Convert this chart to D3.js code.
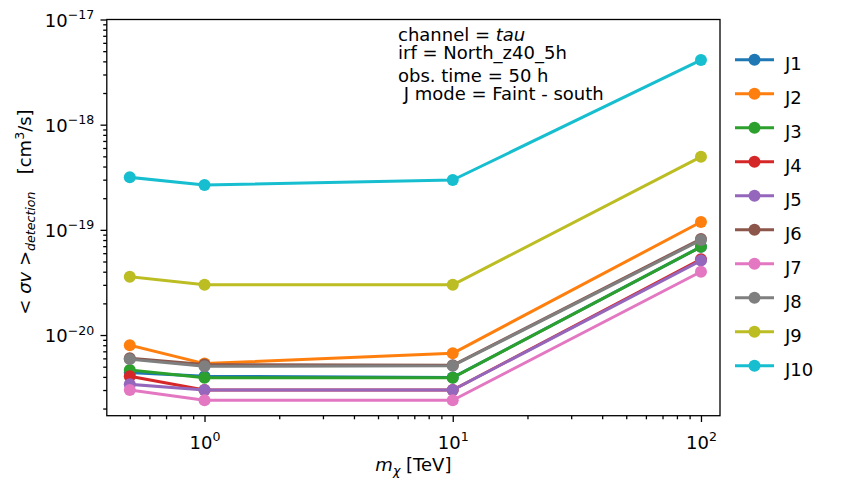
<!DOCTYPE html>
<html>
<head>
<meta charset="utf-8">
<script src="https://cdn.jsdelivr.net/npm/d3@7"></script>
<style>
  body { margin: 0; background: #fff; }
  svg text { font-family: "DejaVu Sans", sans-serif; fill: #000; white-space: pre; }
</style>
</head>
<body>
<svg id="chart" width="843" height="493"></svg>
<script>
// dark matter mass [TeV]
const masses = [0.5, 1, 10, 100];
const seriesNames = ["J1", "J2", "J3", "J4", "J5", "J6", "J7", "J8", "J9", "J10"];

// <sigma v> detection [cm^3/s], one array per J
const j1 = [4.4e-21, 4.05e-21, 3.95e-21, 6.9e-20];
const j2 = [8.0e-21, 5.35e-21, 6.7e-21, 1.19e-19];
const j3 = [4.65e-21, 3.93e-21, 3.93e-21, 6.9e-20];
const j4 = [4.05e-21, 3.0e-21, 3.0e-21, 5.25e-20];
const j5 = [3.4e-21, 3.0e-21, 3.0e-21, 5.1e-20];
const j6 = [6.0e-21, 5.25e-21, 5.15e-21, 8.2e-20];
const j7 = [3.0e-21, 2.4e-21, 2.4e-21, 4.0e-20];
const j8 = [5.9e-21, 5.05e-21, 5.1e-21, 8.0e-20];
const j9 = [3.58e-20, 3.0e-20, 3.0e-20, 4.95e-19];
const j10 = [3.16e-19, 2.67e-19, 2.98e-19, 4.12e-18];
const allSeries = [j1, j2, j3, j4, j5, j6, j7, j8, j9, j10];

const xMajorTicks = [1, 10, 100];
const yMajorTicks = [1e-20, 1e-19, 1e-18, 1e-17];

const svg = d3.select("#chart");
const margin = { top: 19.5, right: 123, bottom: 77.3, left: 106.8 };
const width = +svg.attr("width") - margin.left - margin.right;
const height = +svg.attr("height") - margin.top - margin.bottom;

const chart = svg.append("g").attr("transform", `translate(${margin.left},${margin.top})`);

const x = d3.scaleLog().domain([0.404, 119.3]).range([0, width]);
const y = d3.scaleLog().domain([1.71e-21, 1e-17]).range([height, 0]);
const color = d3.scaleOrdinal().domain(seriesNames).range(d3.schemeCategory10);

const fontSize = 18;
const supSize = 12.6;
const markerR = 6;
const lineW = 3;

function expLabel(text, d) {
    const e = Math.round(Math.log10(d));
    text.text(null);
    text.append("tspan").text("10");
    text.append("tspan").attr("dy", -7.5).attr("font-size", supSize)
        .text(e < 0 ? "\u2212" + (-e) : e);
}

// x axis, minor then major
const xMinor = x.ticks().filter(d => !xMajorTicks.includes(d));
chart.append("g").attr("transform", `translate(0,${height})`)
    .call(d3.axisBottom(x).tickValues(xMinor).tickSize(3.6).tickFormat(""))
    .call(g => g.select(".domain").remove());
const xAxis = chart.append("g").attr("transform", `translate(0,${height})`)
    .call(d3.axisBottom(x).tickValues(xMajorTicks).tickSize(6.3).tickFormat(""))
    .call(g => g.select(".domain").remove());
xAxis.selectAll(".tick text")
    .attr("y", 33).attr("dy", 0)
    .attr("font-size", fontSize).attr("font-family", "DejaVu Sans")
    .each(function (d) { expLabel(d3.select(this), d); });

// y axis
const yMinor = y.ticks().filter(d => !yMajorTicks.some(t => Math.abs(t - d) / t < 1e-6));
chart.append("g")
    .call(d3.axisLeft(y).tickValues(yMinor).tickSize(3.6).tickFormat(""))
    .call(g => g.select(".domain").remove());
const yAxis = chart.append("g")
    .call(d3.axisLeft(y).tickValues(yMajorTicks).tickSize(6.3).tickFormat(""))
    .call(g => g.select(".domain").remove());
yAxis.selectAll(".tick text")
    .attr("x", -12.6).attr("dy", 6.5)
    .attr("font-size", fontSize).attr("font-family", "DejaVu Sans")
    .each(function (d) { expLabel(d3.select(this), d); });

svg.selectAll(".tick line").attr("stroke", "#000").attr("stroke-width", 1.3);

// series: line then markers, in order so later ones sit on top
const line = d3.line().x((d, i) => x(masses[i])).y(d => y(d));
allSeries.forEach((vals, k) => {
    const c = color(seriesNames[k]);
    const g = chart.append("g");
    g.append("path").datum(vals)
        .attr("fill", "none").attr("stroke", c).attr("stroke-width", lineW)
        .attr("stroke-linejoin", "round").attr("stroke-linecap", "square")
        .attr("d", line);
    g.selectAll("circle").data(vals).join("circle")
        .attr("cx", (d, i) => x(masses[i])).attr("cy", d => y(d))
        .attr("r", markerR).attr("fill", c);
});

// frame
chart.append("rect").attr("width", width).attr("height", height)
    .attr("fill", "none").attr("stroke", "#000").attr("stroke-width", 1.3);

// info text
const info = svg.append("g").attr("font-size", fontSize);
const t1 = info.append("text").attr("x", 398).attr("y", 41);
t1.append("tspan").text("channel = ");
t1.append("tspan").attr("font-style", "italic").text("tau");
info.append("text").attr("x", 398).attr("y", 58.5).text("irf = North_z40_5h");
info.append("text").attr("x", 398).attr("y", 82).text("obs. time = 50 h");
info.append("text").attr("x", 398).attr("y", 100).text(" J mode = Faint - south");

// axis labels
const xl = svg.append("text").attr("x", margin.left + width / 2).attr("y", 471)
    .attr("text-anchor", "middle").attr("font-size", fontSize);
xl.append("tspan").attr("font-style", "italic").text("m");
xl.append("tspan").attr("font-style", "italic").attr("font-size", supSize).attr("dy", 4).text("\u03c7");
xl.append("tspan").attr("dy", -4).text(" [TeV]");

const yl = svg.append("text").attr("transform", "translate(31,212) rotate(-90)")
    .attr("text-anchor", "middle").attr("font-size", fontSize);
yl.append("tspan").text("< ");
yl.append("tspan").attr("font-style", "italic").text("\u03c3v");
yl.append("tspan").text(" >");
yl.append("tspan").attr("font-style", "italic").attr("font-size", supSize).attr("dy", 4).text("detection");
yl.append("tspan").attr("dy", -4).text("   [cm");
yl.append("tspan").attr("font-size", supSize).attr("dy", -7.5).text("3");
yl.append("tspan").attr("dy", 7.5).text("/s]");

// legend
const legend = svg.append("g").attr("transform", "translate(735,59.7)");
seriesNames.forEach((name, i) => {
    const row = legend.append("g").attr("transform", `translate(0,${i * 34})`);
    row.append("line").attr("x1", 0).attr("x2", 39)
        .attr("stroke", color(name)).attr("stroke-width", lineW);
    row.append("circle").attr("cx", 19.5).attr("r", markerR).attr("fill", color(name));
    row.append("text").attr("x", 50).attr("y", 10).attr("font-size", fontSize).text(name);
});
</script>
</body>
</html>
